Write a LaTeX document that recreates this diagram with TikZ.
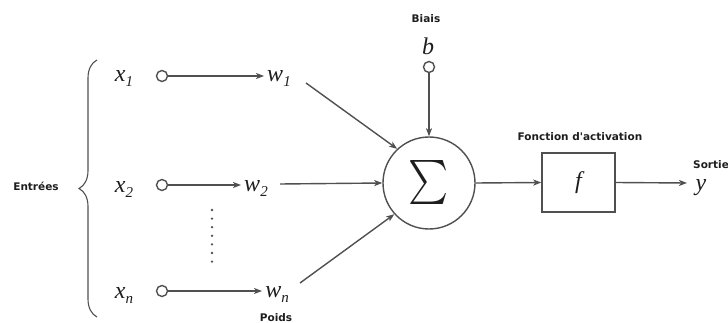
\documentclass[tikz,border=0pt]{standalone}
\usepackage{fontspec}
\usepackage{graphicx}
\newfontfamily\labfont{DejaVu Sans}
\newfontfamily\varfont{Liberation Serif}
\usetikzlibrary{arrows.meta,decorations.pathreplacing}
\definecolor{linecol}{RGB}{80,80,80}
\definecolor{txtcol}{RGB}{30,30,30}
\newcommand{\vmain}[1]{{\varfont\itshape\fontsize{24}{26}\selectfont #1}}
\newcommand{\vsub}[2]{\vmain{#1}\raisebox{-5pt}{\varfont\itshape\fontsize{15}{16}\selectfont #2}}
\begin{document}
\begin{tikzpicture}[x=1pt,y=-1pt,
  conn/.style={draw=linecol,line width=1.4pt,-{Stealth[length=8pt,width=6pt,inset=2pt]}},
  var/.style={text=txtcol,inner sep=1pt},
  lab/.style={text=txtcol,font=\labfont\bfseries\fontsize{10.5}{12}\selectfont,inner sep=0pt},
  port/.style={circle,draw=linecol,line width=1.4pt,minimum size=11pt,inner sep=0pt}]
\useasboundingbox (0,0) rectangle (728,323);

% inputs
\node[var] (x1) at (124,78) {\vsub{x}{1}};
\node[var] (x2) at (124,189) {\vsub{x}{2}};
\node[var] (xn) at (124,295) {\vsub{x}{n}};
\node[port] (c1) at (162,76) {};
\node[port] (c2) at (162,185) {};
\node[port] (cn) at (162,291) {};

% weights
\node[var,inner sep=3pt] (w1) at (279,78) {\vsub{w}{1}};
\node[var,inner sep=3pt] (w2) at (256,188) {\vsub{w}{2}};
\node[var,inner sep=3pt] (wn) at (277,294) {\vsub{w}{n}};
\node[lab] (poids) at (276,318) {Poids};

\draw[conn] (c1.east) -- (w1.west |- c1.east);
\draw[conn] (c2.east) -- (w2.west |- c2.east);
\draw[conn] (cn.east) -- (wn.west |- cn.east);

% dots
\foreach \i in {0,...,6} \fill[linecol] (212,210+\i*8.6) circle (1.3);

% brace and label
\draw[linecol,line width=1.1pt,decorate,decoration={brace,amplitude=18pt}] (97,317) -- (97,60);
\node[lab] (entrees) at (36,186) {Entrées};

% summation
\node[circle,draw=linecol,line width=1.4pt,minimum size=92pt,inner sep=0pt,text=txtcol] (sum) at (429,183) {\scalebox{3.8}[4.4]{$\sum$}};

% bias
\node[lab] (biais) at (426,19) {Biais};
\node[var] (b) at (428,46) {\vmain{b}};
\node[port] (cb) at (429,67) {};
\draw[conn] (cb.south) -- (sum.north);

% weighted connections
\coordinate (s1) at (306,83);
\coordinate (s2) at (280,184);
\coordinate (sn) at (300,283);
\draw[conn] (s1) -- (sum.133);
\draw[conn] (s2) -- (sum.180);
\draw[conn] (sn) -- (sum.222);

% activation
\node[draw=linecol,line width=1.4pt,minimum width=73pt,minimum height=59pt,inner sep=0pt,text=txtcol] (f) at (578.5,182.5) {\vmain{f}};
\node[lab] (fonct) at (580,137) {Fonction d'activation};
\draw[conn] (sum.east) -- (f.west);

% output
\coordinate (yout) at (687,183);
\draw[conn] (f.east) -- (yout);
\node[var] (y) at (701,188) {\vmain{y}};
\node[lab,anchor=west] (sortie) at (693,165) {Sortie};
\end{tikzpicture}
\end{document}
